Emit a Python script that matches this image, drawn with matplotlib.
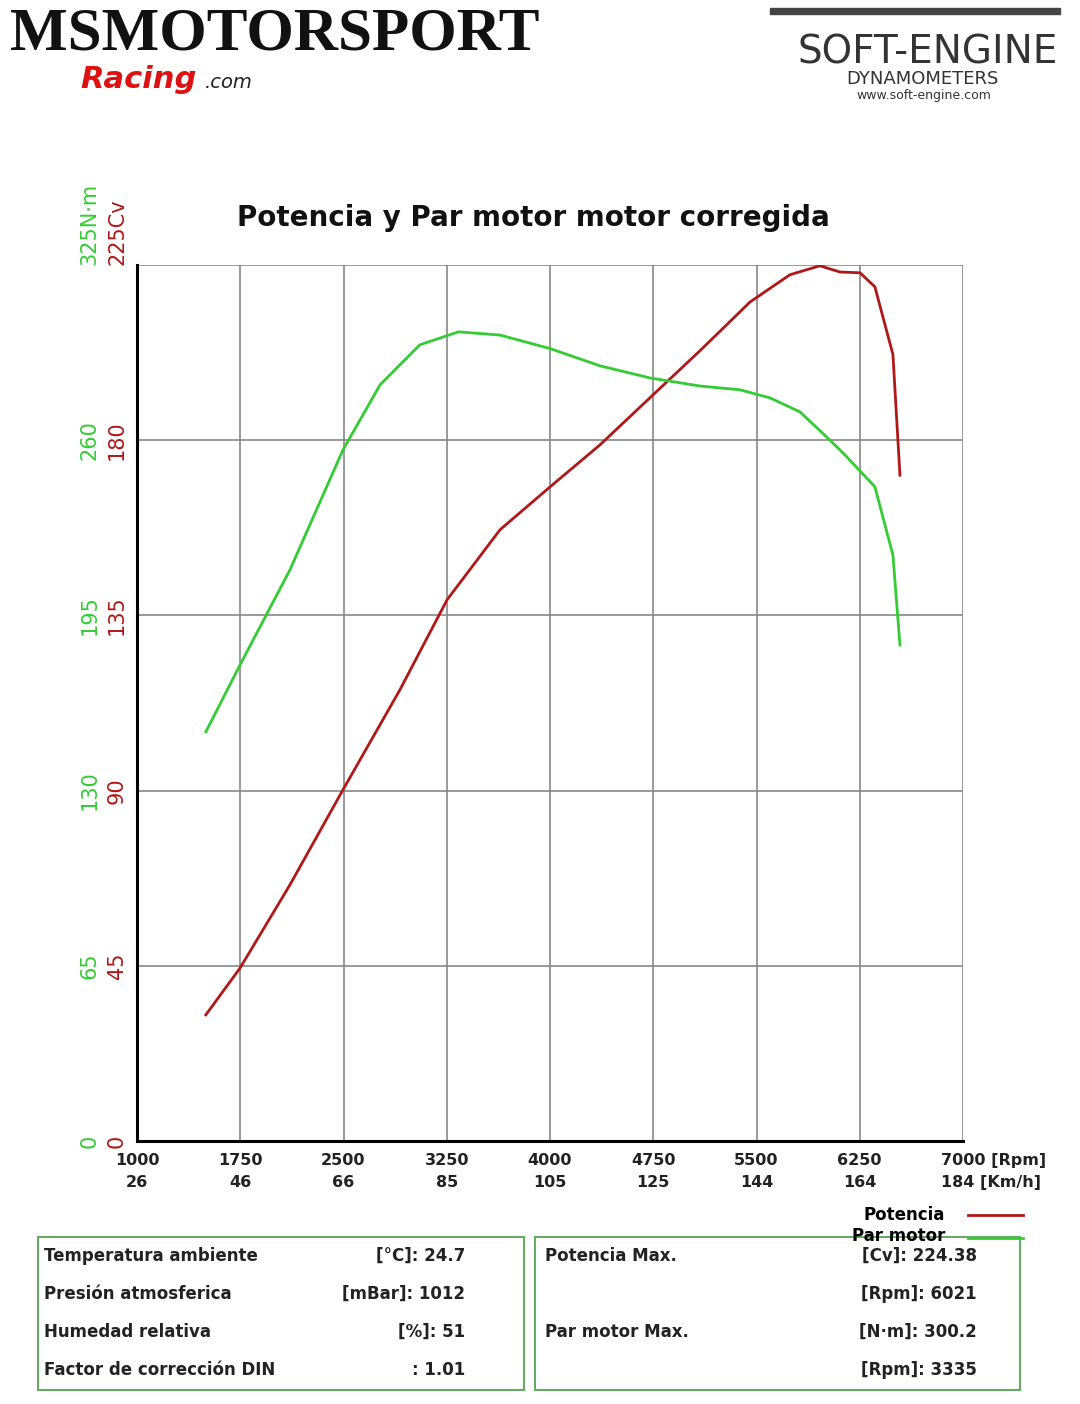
import matplotlib.pyplot as plt
from matplotlib.patches import Rectangle

rpm_pow = [1500, 1748, 2111, 2496, 2910, 3252, 3637, 4000, 4363, 4726, 5090, 5453, 5743, 5961, 6106, 6252, 6360, 6491, 6542]
potencia = [32.4, 44.4, 65.8, 90.2, 115.9, 139.0, 157.0, 168.0, 178.8, 190.9, 203.0, 215.5, 222.5, 224.8, 223.2, 223.0, 219.4, 202.0, 171.0]
rpm_par = [1500, 1748, 2111, 2496, 2765, 3055, 3335, 3637, 4000, 4363, 4726, 5090, 5380, 5598, 5816, 6034, 6143, 6360, 6491, 6542]
par = [151.8, 176.6, 211.9, 256.4, 280.5, 295.4, 300.2, 299.0, 294.0, 287.6, 283.1, 280.1, 278.7, 275.7, 270.5, 260.0, 254.5, 242.7, 217.4, 184.0]

rpm_ticks = [1000, 1750, 2500, 3250, 4000, 4750, 5500, 6250, 7000]
kmh_ticks = ["26", "46", "66", "85", "105", "125", "144", "164", "184"]
cv_ticks = [0, 45, 90, 135, 180, 225]
nm_ticks = [0, 65, 130, 195, 260, 325]

RED = "#b01818"
GREEN = "#33cc33"

fig = plt.figure(figsize=(10.8, 14.04), dpi=100)
ax = fig.add_axes([137 / 1080, 1 - 1141 / 1404, 826 / 1080, 876 / 1404])
ax.set_xlim(1000, 7000)
ax.set_ylim(0, 225)
for x in rpm_ticks[1:]:
    ax.axvline(x, color="#888888", lw=1.2, zorder=0)
for y in cv_ticks[1:]:
    ax.axhline(y, color="#888888", lw=1.2, zorder=0)
ax.set_xticks([])
ax.set_yticks([])
for s in ["top", "right"]:
    ax.spines[s].set_visible(False)
for s in ["left", "bottom"]:
    ax.spines[s].set_linewidth(2.2)

ax.plot(rpm_pow, potencia, color=RED, lw=2)
ax2 = ax.twinx()
ax2.set_ylim(0, 325)
ax2.axis("off")
ax2.plot(rpm_par, par, color=GREEN, lw=2)

for r, k in zip(rpm_ticks, kmh_ticks):
    lab = str(r)
    lab2 = k
    if r == 7000:
        lab += " [Rpm]"
        lab2 += " [Km/h]"
    ha = "left" if r == 7000 else "center"
    xr = r - 160 if r == 7000 else r
    ax.text(xr, -3, lab, ha=ha, va="top", fontsize=11.5, fontweight="bold", color="#222222")
    ax.text(xr, -8.8, lab2, ha=ha, va="top", fontsize=11.5, fontweight="bold", color="#222222")

for cv, nm in zip(cv_ticks, nm_ticks):
    lc = f"{cv}Cv" if cv == 225 else str(cv)
    ln = f"{nm}N·m" if nm == 325 else str(nm)
    ax.text(-0.012, cv, lc, transform=ax.get_yaxis_transform(), rotation=90,
            ha="right", va="bottom" if cv == 225 else "center", fontsize=15, color=RED)
    ax.text(-0.045, cv, ln, transform=ax.get_yaxis_transform(), rotation=90,
            ha="right", va="bottom" if cv == 225 else "center", fontsize=15, color=GREEN)

fig.text(533 / 1080, 1 - 218 / 1404, "Potencia y Par motor motor corregida", ha="center",
         va="center", fontsize=20, fontweight="bold", color="#111111")

# header logos
fig.text(10 / 1080, 1 - 34 / 1404, "MSMOTORSPORT", family="Liberation Serif", fontsize=44,
         fontweight="bold", va="center", color="#111111")
fig.text(80 / 1080, 1 - 80 / 1404, "Racing", fontsize=22, fontweight="bold", style="italic",
         color="#dd1111", va="center")
fig.text(205 / 1080, 1 - 82 / 1404, ".com", fontsize=14, style="italic", color="#222222", va="center")
fig.text(1058 / 1080, 1 - 52 / 1404, "SOFT-ENGINE", fontsize=28, ha="right", va="center", color="#333333")
fig.text(922 / 1080, 1 - 79 / 1404, "DYNAMOMETERS", fontsize=13, ha="center", va="center", color="#333333")
fig.text(924 / 1080, 1 - 96 / 1404, "www.soft-engine.com", fontsize=9, ha="center", va="center", color="#333333")
fig.add_artist(Rectangle((770 / 1080, 1 - 14 / 1404), 290 / 1080, 6 / 1404, transform=fig.transFigure, color="#444444"))

# legend
fig.text(945 / 1080, 1 - 1215 / 1404, "Potencia", ha="right", va="center", fontsize=12, fontweight="bold")
fig.text(945 / 1080, 1 - 1236 / 1404, "Par motor", ha="right", va="center", fontsize=12, fontweight="bold")
fig.add_artist(plt.Line2D([968 / 1080, 1023 / 1080], [1 - 1215 / 1404] * 2, color=RED, lw=2))
fig.add_artist(plt.Line2D([968 / 1080, 1023 / 1080], [1 - 1238 / 1404] * 2, color=GREEN, lw=2))

# info boxes
for x0, x1 in [(38, 524), (535, 1020)]:
    fig.add_artist(Rectangle((x0 / 1080, 1 - 1390 / 1404), (x1 - x0) / 1080, 153 / 1404,
                             transform=fig.transFigure, fill=False, ec="#66aa66", lw=1.5))
rows_left = [("Temperatura ambiente", "[°C]: 24.7"), ("Presión atmosferica", "[mBar]: 1012"),
             ("Humedad relativa", "[%]: 51"), ("Factor de corrección DIN", ": 1.01")]
rows_right = [("Potencia Max.", "[Cv]: 224.38"), ("", "[Rpm]: 6021"),
              ("Par motor Max.", "[N·m]: 300.2"), ("", "[Rpm]: 3335")]
ys = [1256, 1294, 1332, 1370]
for y, (a, b) in zip(ys, rows_left):
    fig.text(44 / 1080, 1 - y / 1404, a, fontsize=12, fontweight="bold", va="center", color="#222222")
    fig.text(465 / 1080, 1 - y / 1404, b, fontsize=12, fontweight="bold", va="center", ha="right", color="#222222")
for y, (a, b) in zip(ys, rows_right):
    fig.text(545 / 1080, 1 - y / 1404, a, fontsize=12, fontweight="bold", va="center", color="#222222")
    fig.text(977 / 1080, 1 - y / 1404, b, fontsize=12, fontweight="bold", va="center", ha="right", color="#222222")

fig.savefig("out.png", dpi=100)
